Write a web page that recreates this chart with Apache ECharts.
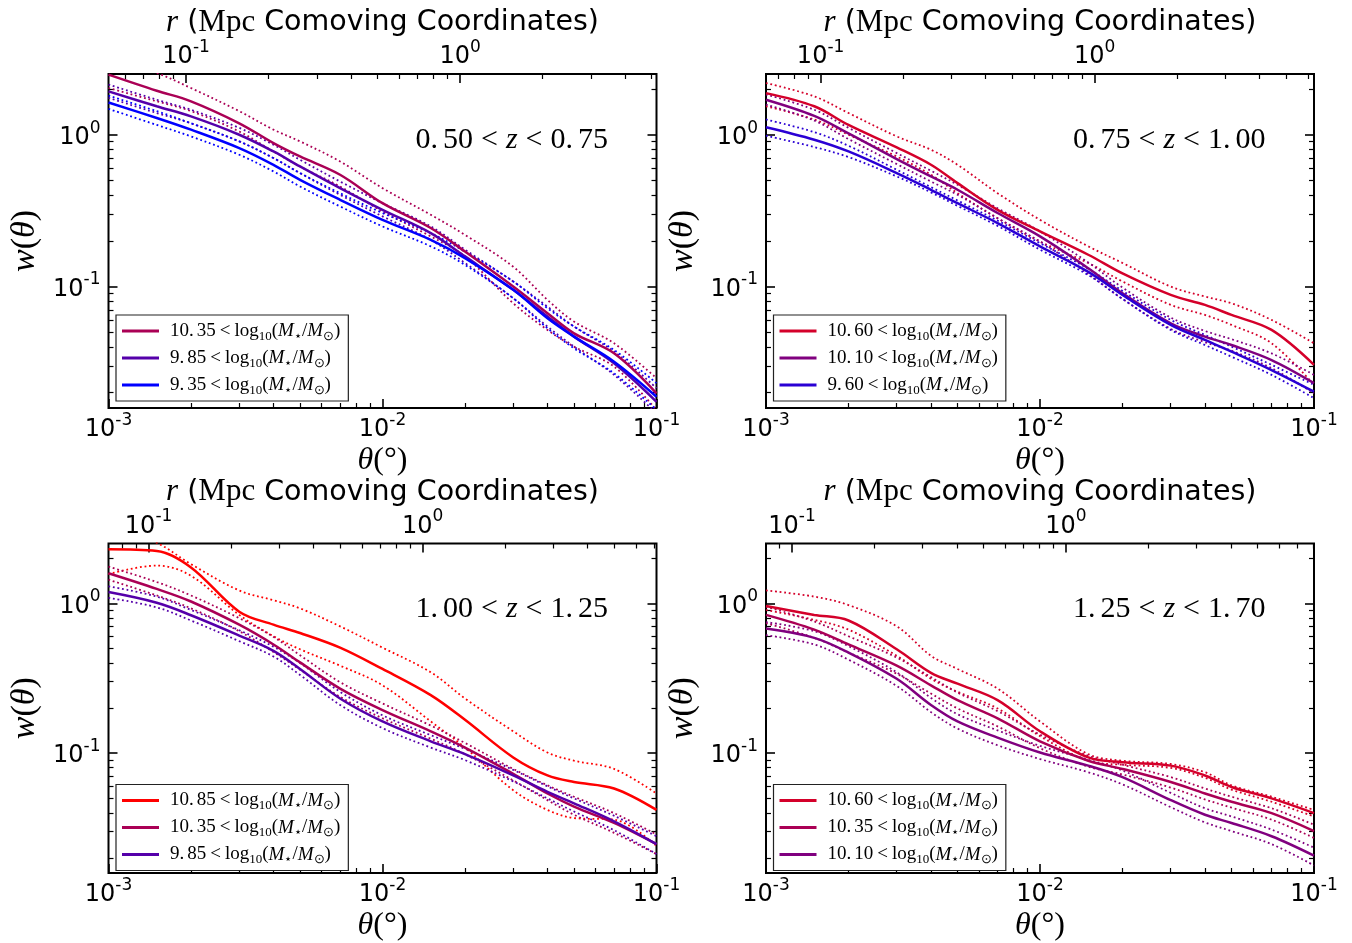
<!DOCTYPE html>
<html>
<head>
<meta charset="utf-8">
<script src="https://cdn.jsdelivr.net/npm/echarts@6/dist/echarts.min.js"></script>
<style>
  html, body { margin: 0; padding: 0; background: #fff; }
  #chart { width: 1352px; height: 943px; }
</style>
</head>
<body>
<div id="chart"></div>
<script>
// Angular separation theta (degrees) at which every curve is sampled
const theta = [0.001, 0.0015, 0.002, 0.003, 0.004, 0.005, 0.007, 0.01, 0.015, 0.02, 0.03, 0.04, 0.05, 0.07, 0.1];

// Tick values
const thetaMajor = [0.001, 0.01, 0.1];
const thetaMinor = [0.002, 0.003, 0.004, 0.005, 0.006, 0.007, 0.008, 0.009,
                    0.02, 0.03, 0.04, 0.05, 0.06, 0.07, 0.08, 0.09];
const wMajor = [0.1, 1];
const wMinor = [0.02, 0.03, 0.04, 0.05, 0.06, 0.07, 0.08, 0.09,
                0.2, 0.3, 0.4, 0.5, 0.6, 0.7, 0.8, 0.9, 2];
const rMajor = [0.1, 1];
const rMinor = [0.02, 0.03, 0.04, 0.05, 0.06, 0.07, 0.08, 0.09,
                0.2, 0.3, 0.4, 0.5, 0.6, 0.7, 0.8, 0.9,
                2, 3, 4, 5, 6, 7, 8, 9];

// Redshift slices and the comoving separation (Mpc) at theta = 1e-3 deg in each
const zSlices = [['0.50', '0.75'], ['0.75', '1.00'], ['1.00', '1.25'], ['1.25', '1.70']];
const rAtThetaMin = [0.0521, 0.0632, 0.0714, 0.0804];

// Stellar-mass thresholds log10(M*/Msun) plotted in each redshift slice
const massBins = [['10.35', '9.85', '9.35'], ['10.60', '10.10', '9.60'],
                  ['10.85', '10.35', '9.85'], ['10.60', '10.35', '10.10']];

// w(theta): best estimate, upper and lower envelope
// 0.50 < z < 0.75
const z050_m1035    = [2.49, 1.95, 1.66, 1.19, 0.881, 0.719, 0.545, 0.354, 0.243, 0.170, 0.100, 0.0667, 0.0492, 0.0363, 0.0198];
const z050_m1035_hi = [3.2, 2.55, 2.03, 1.43, 1.08, 0.904, 0.667, 0.445, 0.297, 0.219, 0.135, 0.0817, 0.0588, 0.0423, 0.0249];
const z050_m1035_lo = [2.03, 1.66, 1.43, 1.05, 0.776, 0.618, 0.456, 0.312, 0.214, 0.158, 0.0776, 0.0518, 0.0402, 0.0297, 0.0154];
const z050_m985     = [1.93, 1.54, 1.32, 1.00, 0.776, 0.618, 0.445, 0.320, 0.225, 0.158, 0.0951, 0.0634, 0.0468, 0.0312, 0.0174];
const z050_m985_hi  = [2.14, 1.70, 1.46, 1.11, 0.859, 0.684, 0.492, 0.354, 0.249, 0.175, 0.108, 0.0738, 0.0545, 0.0373, 0.0214];
const z050_m985_lo  = [1.75, 1.39, 1.19, 0.904, 0.702, 0.559, 0.402, 0.290, 0.203, 0.143, 0.0838, 0.0545, 0.0402, 0.0262, 0.0146];
const z050_m935     = [1.63, 1.29, 1.08, 0.817, 0.634, 0.505, 0.373, 0.275, 0.203, 0.154, 0.0951, 0.0618, 0.0468, 0.0320, 0.0188];
const z050_m935_hi  = [1.81, 1.43, 1.19, 0.904, 0.702, 0.559, 0.412, 0.305, 0.225, 0.170, 0.108, 0.0720, 0.0545, 0.0382, 0.0231];
const z050_m935_lo  = [1.48, 1.16, 0.975, 0.738, 0.573, 0.456, 0.337, 0.249, 0.184, 0.139, 0.0838, 0.0531, 0.0392, 0.0268, 0.0154];

// 0.75 < z < 1.00
const z075_m1060    = [1.88, 1.54, 1.16, 0.825, 0.634, 0.480, 0.320, 0.231, 0.162, 0.122, 0.0881, 0.0757, 0.0650, 0.0518, 0.0305];
const z075_m1060_hi = [2.19, 1.79, 1.39, 0.975, 0.796, 0.634, 0.412, 0.275, 0.184, 0.143, 0.100, 0.0859, 0.0776, 0.0603, 0.0423];
const z075_m1060_lo = [1.54, 1.26, 1.00, 0.719, 0.545, 0.412, 0.282, 0.198, 0.143, 0.108, 0.0757, 0.0650, 0.0559, 0.0423, 0.0225];
const z075_m1010    = [1.70, 1.33, 1.02, 0.691, 0.531, 0.434, 0.305, 0.214, 0.132, 0.0904, 0.0573, 0.0468, 0.0412, 0.0328, 0.0231];
const z075_m1010_hi = [1.84, 1.46, 1.11, 0.757, 0.579, 0.468, 0.328, 0.231, 0.144, 0.0985, 0.0625, 0.0510, 0.0450, 0.0363, 0.0262];
const z075_m1010_lo = [1.58, 1.24, 0.936, 0.641, 0.492, 0.402, 0.282, 0.198, 0.121, 0.0829, 0.0526, 0.0430, 0.0378, 0.0290, 0.0198];
const z075_m960     = [1.12, 0.927, 0.776, 0.559, 0.434, 0.354, 0.262, 0.184, 0.125, 0.0881, 0.0559, 0.0445, 0.0373, 0.0282, 0.0203];
const z075_m960_hi  = [1.26, 1.04, 0.846, 0.588, 0.452, 0.369, 0.272, 0.193, 0.131, 0.0936, 0.0603, 0.0480, 0.0402, 0.0305, 0.0225];
const z075_m960_lo  = [0.985, 0.830, 0.713, 0.531, 0.417, 0.340, 0.251, 0.175, 0.119, 0.0829, 0.0518, 0.0412, 0.0345, 0.0262, 0.0184];

// 1.00 < z < 1.25
const z100_m1085    = [2.30, 2.24, 1.74, 0.881, 0.721, 0.635, 0.507, 0.365, 0.244, 0.167, 0.0937, 0.0710, 0.0642, 0.0581, 0.0418];
const z100_m1085_hi = [3.35, 2.54, 1.83, 1.22, 1.05, 0.927, 0.703, 0.507, 0.347, 0.232, 0.140, 0.101, 0.0891, 0.0785, 0.0538];
const z100_m1085_lo = [1.57, 1.79, 1.53, 0.838, 0.604, 0.494, 0.384, 0.284, 0.163, 0.109, 0.0566, 0.0418, 0.0369, 0.0360, 0.0240];
const z100_m1035    = [1.59, 1.25, 1.03, 0.721, 0.532, 0.404, 0.270, 0.194, 0.140, 0.109, 0.0728, 0.0538, 0.0440, 0.0342, 0.0247];
const z100_m1035_hi = [1.76, 1.39, 1.13, 0.797, 0.598, 0.451, 0.298, 0.215, 0.153, 0.117, 0.0785, 0.0610, 0.0512, 0.0398, 0.0287];
const z100_m1035_lo = [1.44, 1.13, 0.927, 0.652, 0.474, 0.361, 0.238, 0.171, 0.125, 0.0985, 0.0658, 0.0486, 0.0388, 0.0294, 0.0212];
const z100_m985     = [1.19, 1.01, 0.834, 0.610, 0.482, 0.365, 0.232, 0.163, 0.120, 0.0985, 0.0710, 0.0552, 0.0463, 0.0351, 0.0247];
const z100_m985_hi  = [1.30, 1.11, 0.904, 0.662, 0.514, 0.400, 0.257, 0.179, 0.132, 0.107, 0.0773, 0.0601, 0.0499, 0.0382, 0.0279];
const z100_m985_lo  = [1.09, 0.941, 0.769, 0.560, 0.442, 0.333, 0.210, 0.147, 0.109, 0.0899, 0.0648, 0.0499, 0.0408, 0.0306, 0.0212];

// 1.25 < z < 1.70
const z125_m1060    = [0.960, 0.838, 0.769, 0.494, 0.344, 0.291, 0.226, 0.140, 0.0937, 0.0869, 0.0826, 0.0710, 0.0595, 0.0499, 0.0398];
const z125_m1060_hi = [1.22, 1.11, 0.975, 0.703, 0.447, 0.365, 0.270, 0.163, 0.0985, 0.0891, 0.0847, 0.0746, 0.0610, 0.0512, 0.0418];
const z125_m1060_lo = [0.904, 0.777, 0.668, 0.447, 0.314, 0.257, 0.199, 0.130, 0.0891, 0.0838, 0.0797, 0.0685, 0.0571, 0.0474, 0.0378];
const z125_m1035    = [0.838, 0.668, 0.532, 0.384, 0.284, 0.226, 0.171, 0.120, 0.0891, 0.0785, 0.0642, 0.0538, 0.0474, 0.0398, 0.0302];
const z125_m1035_hi = [0.951, 0.758, 0.604, 0.435, 0.322, 0.254, 0.191, 0.133, 0.0960, 0.0838, 0.0692, 0.0581, 0.0512, 0.0429, 0.0333];
const z125_m1035_lo = [0.739, 0.589, 0.470, 0.339, 0.250, 0.199, 0.151, 0.108, 0.0813, 0.0721, 0.0589, 0.0491, 0.0433, 0.0360, 0.0272];
const z125_m1010    = [0.679, 0.589, 0.470, 0.314, 0.210, 0.163, 0.127, 0.101, 0.0826, 0.0692, 0.0486, 0.0388, 0.0342, 0.0279, 0.0207];
const z125_m1010_hi = [0.750, 0.652, 0.519, 0.347, 0.234, 0.182, 0.142, 0.112, 0.0904, 0.0766, 0.0543, 0.0429, 0.0378, 0.0309, 0.0234];
const z125_m1010_lo = [0.614, 0.532, 0.421, 0.281, 0.188, 0.146, 0.113, 0.0914, 0.0746, 0.0619, 0.0436, 0.0345, 0.0302, 0.0247, 0.0178];

// Curves per panel, in the same order as massBins
const panelCurves = [
  [[z050_m1035, z050_m1035_hi, z050_m1035_lo], [z050_m985, z050_m985_hi, z050_m985_lo], [z050_m935, z050_m935_hi, z050_m935_lo]],
  [[z075_m1060, z075_m1060_hi, z075_m1060_lo], [z075_m1010, z075_m1010_hi, z075_m1010_lo], [z075_m960, z075_m960_hi, z075_m960_lo]],
  [[z100_m1085, z100_m1085_hi, z100_m1085_lo], [z100_m1035, z100_m1035_hi, z100_m1035_lo], [z100_m985, z100_m985_hi, z100_m985_lo]],
  [[z125_m1060, z125_m1060_hi, z125_m1060_lo], [z125_m1035, z125_m1035_hi, z125_m1035_lo], [z125_m1010, z125_m1010_hi, z125_m1010_lo]]
];

// Line colour runs from blue (low mass) to red (high mass)
const massColor = {
  '9.35': '#0000ff', '9.60': '#2a00d4', '9.85': '#5500aa', '10.10': '#80007f',
  '10.35': '#aa0055', '10.60': '#d4002a', '10.85': '#ff0000'
};

const SANS = 'DejaVu Sans';
const SERIF = 'Liberation Serif';
const W_MIN = 0.01585, W_MAX = 2.512;

// Panel frames (px)
const frames = [
  { left: 108.5, top: 74,    width: 548, height: 334 },
  { left: 766,   top: 74,    width: 548, height: 334 },
  { left: 108.5, top: 543.5, width: 548, height: 334 },
  { left: 766,   top: 543.5, width: 548, height: 334 }
];

const powRich = {
  b: { fontFamily: SANS, fontSize: 24, lineHeight: 30, verticalAlign: 'bottom', color: '#000' },
  s: { fontFamily: SANS, fontSize: 17, lineHeight: 17, verticalAlign: 'top', color: '#000' }
};
function powLabel(v) {
  const e = Math.round(Math.log10(v));
  return '{b|10}{s|' + e + '}';
}

function logAxis(gi, pos, min, max, values, len, width, label) {
  const ax = {
    type: 'log', logBase: 10, gridIndex: gi, position: pos, min: min, max: max,
    axisLine: { show: false },
    splitLine: { show: false },
    axisTick: { show: true, inside: true, length: len, customValues: values,
                lineStyle: { color: '#000', width: width } },
    axisLabel: { show: false }
  };
  if (label) {
    ax.axisLabel = Object.assign({ show: true, customValues: values, formatter: powLabel, rich: powRich }, label);
  }
  return ax;
}

function serif(size, italic) {
  return { fontFamily: SERIF, fontSize: size, fontWeight: 'normal',
           fontStyle: italic ? 'italic' : 'normal', color: '#000' };
}

const mathRich = {
  n: serif(30),
  d: Object.assign(serif(30), { padding: [0, 0, 0, 5] }),
  o: Object.assign(serif(30), { padding: [0, 8] }),
  i: serif(30, true)
};
function zText(lo, hi) {
  const a = lo.split('.'), b = hi.split('.');
  return '{n|' + a[0] + '.}{d|' + a[1] + '}{o|<}{i|z}{o|<}{n|' + b[0] + '.}{d|' + b[1] + '}';
}

const legendRich = {
  t: Object.assign(serif(19), { lineHeight: 20 }),
  g: Object.assign(serif(19), { lineHeight: 20, padding: [0, 0, 0, 6] }),
  d: Object.assign(serif(19), { lineHeight: 20, padding: [0, 0, 0, 3] }),
  o: Object.assign(serif(19), { lineHeight: 20, padding: [0, 4] }),
  i: Object.assign(serif(19, true), { lineHeight: 20 }),
  s: Object.assign(serif(13), { lineHeight: 9, padding: [11, 0, 0, 0] })
};
function massText(m) {
  const p = m.split('.');
  return '{g|' + p[0] + '.}{d|' + p[1] + '}{o|<}{t|log}{s|10}{t|(}{i|M}{s|⋆}{t|/}{i|M}{s|⊙}{t|)}';
}

const option = {
  animation: false,
  backgroundColor: '#fff',
  grid: [], xAxis: [], yAxis: [], series: [], legend: [], title: []
};

frames.forEach(function (f, gi) {
  option.grid.push({ left: f.left, top: f.top, width: f.width, height: f.height,
                     show: true, borderColor: '#000', borderWidth: 2, backgroundColor: 'transparent' });

  const rMin = rAtThetaMin[gi], rMax = rMin * 100;

  // x axes: theta (bottom, major + minor), r (top, major + minor)
  const thetaAxis = logAxis(gi, 'bottom', 0.001, 0.1, thetaMajor, 9, 1.6, { margin: 4 });
  thetaAxis.name = '{i|θ}{n|(°)}';
  thetaAxis.nameLocation = 'middle';
  thetaAxis.nameGap = 37;
  thetaAxis.nameTextStyle = { rich: { i: serif(32, true), n: serif(32) } };
  option.xAxis.push(thetaAxis);
  option.xAxis.push(logAxis(gi, 'bottom', 0.001, 0.1, thetaMinor, 5, 1.2));

  const rAxis = logAxis(gi, 'top', rMin, rMax, rMajor, 9, 1.6, { margin: 5 });
  rAxis.name = '{i|r}{p| (}{m|Mpc}{p| Comoving Coordinates)}';
  rAxis.nameLocation = 'middle';
  rAxis.nameGap = 30;
  rAxis.nameTextStyle = { rich: {
    i: serif(31, true),
    m: serif(31),
    p: { fontFamily: SANS, fontSize: 28.5, fontWeight: 'normal', color: '#000' } } };
  option.xAxis.push(rAxis);
  option.xAxis.push(logAxis(gi, 'top', rMin, rMax, rMinor, 5, 1.2));

  // y axes: w(theta) left (major + minor) and mirrored on the right
  const wAxis = logAxis(gi, 'left', W_MIN, W_MAX, wMajor, 9, 1.6, { margin: 8 });
  wAxis.name = '{i|w}{n|(}{i|θ}{n|)}';
  wAxis.nameLocation = 'middle';
  wAxis.nameGap = 66;
  wAxis.nameRotate = 90;
  wAxis.nameTextStyle = { rich: { i: serif(34, true), n: serif(34) } };
  option.yAxis.push(wAxis);
  option.yAxis.push(logAxis(gi, 'left', W_MIN, W_MAX, wMinor, 5, 1.2));
  option.yAxis.push(logAxis(gi, 'right', W_MIN, W_MAX, wMajor, 9, 1.6));
  option.yAxis.push(logAxis(gi, 'right', W_MIN, W_MAX, wMinor, 5, 1.2));

  // curves: dotted envelopes first, solid estimate on top
  massBins[gi].forEach(function (m, k) {
    const col = massColor[m];
    const set = panelCurves[gi][k];
    [1, 2].forEach(function (j) {
      option.series.push({
        type: 'line', name: m + (j === 1 ? ' upper' : ' lower'),
        xAxisIndex: gi * 4, yAxisIndex: gi * 4,
        data: theta.map(function (t, i) { return [t, set[j][i]]; }),
        smooth: 0.35, symbol: 'none', showSymbol: false, silent: true,
        lineStyle: { color: col, width: 1.8, type: [1.8, 2.8], cap: 'butt' }, z: 2
      });
    });
    option.series.push({
      type: 'line', name: m,
      xAxisIndex: gi * 4, yAxisIndex: gi * 4,
      data: theta.map(function (t, i) { return [t, set[0][i]]; }),
      smooth: 0.35, symbol: 'none', showSymbol: false, silent: true,
      itemStyle: { color: col },
      lineStyle: { color: col, width: 2.5 }, z: 3
    });
  });

  option.legend.push({
    orient: 'vertical', left: f.left + 7.5, top: f.top + 241,
    data: massBins[gi].map(function (m) { return { name: m, icon: 'rect' }; }),
    itemWidth: 37, itemHeight: 3, itemGap: 3,
    padding: [4, 8, 4, 6],
    borderColor: '#222', borderWidth: 1.2, borderRadius: 0, backgroundColor: '#fff',
    selectedMode: false,
    formatter: massText,
    textStyle: { rich: legendRich }
  });

  option.title.push({
    text: zText(zSlices[gi][0], zSlices[gi][1]),
    right: 1352 - (f.left + 499.5), top: f.top + 51,
    padding: 0,
    textStyle: { fontWeight: 'normal', rich: mathRich }
  });
});

const chart = echarts.init(document.getElementById('chart'), null, { renderer: 'canvas' });
chart.setOption(option);
</script>
</body>
</html>
